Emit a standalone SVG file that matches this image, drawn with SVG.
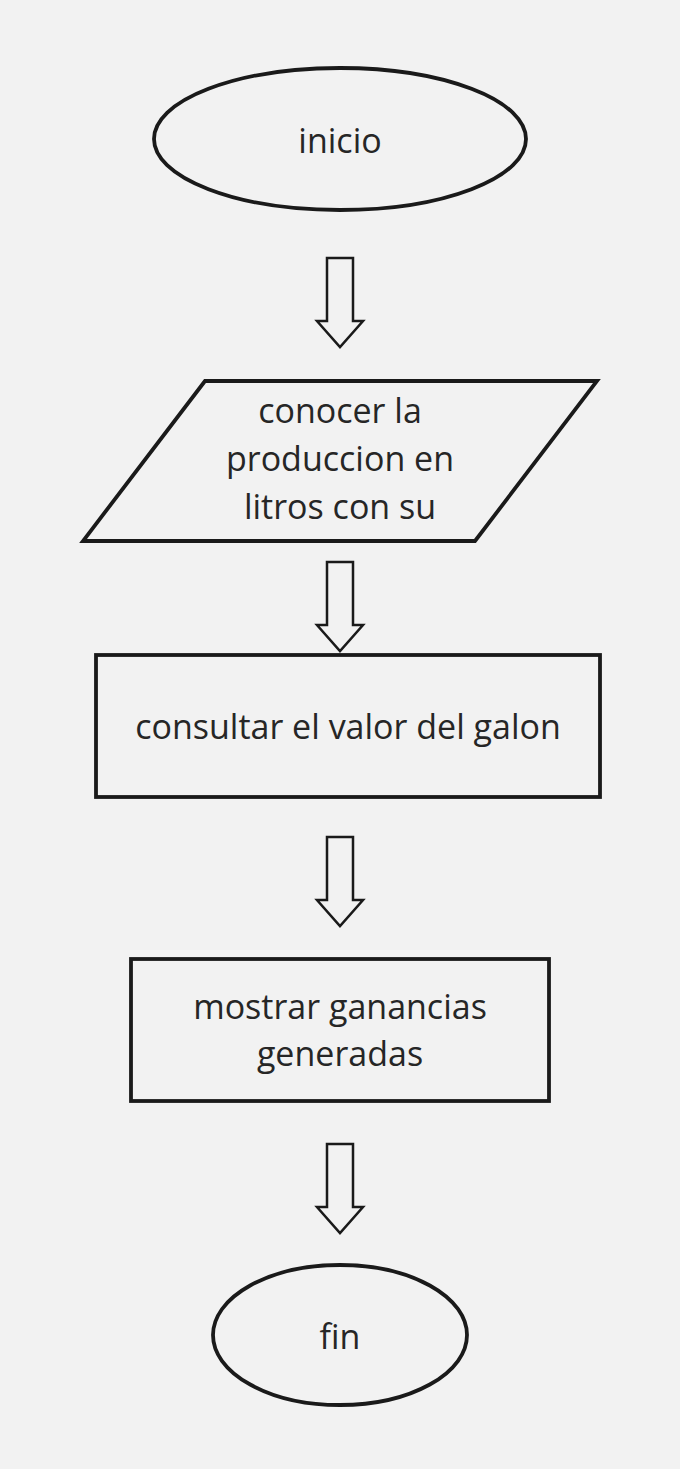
<svg xmlns="http://www.w3.org/2000/svg" width="680" height="1469" viewBox="0 0 680 1469">
<style>
.shape{fill:none;stroke:#1a1a1a;stroke-width:3.8}
.arrow{fill:#f2f2f2;stroke:#1a1a1a;stroke-width:2.5;stroke-linejoin:miter}
.t{font-family:"Open Sans","Noto Sans",sans-serif;font-size:34px;font-weight:400;fill:#262626;text-anchor:middle}
</style>
<rect width="680" height="1469" fill="#f2f2f2"/>
<g id="connectors">
<path class="arrow" d="M327,258 H353 V321 H363 L340,347 L317,321 H327 Z"/>
<path class="arrow" d="M327,562 H353 V625 H363 L340,651 L317,625 H327 Z"/>
<path class="arrow" d="M327,837 H353 V900 H363 L340,926 L317,900 H327 Z"/>
<path class="arrow" d="M327,1144 H353 V1207 H363 L340,1233 L317,1207 H327 Z"/>
</g>
<g id="inicio">
<ellipse class="shape" cx="340" cy="139" rx="186" ry="71"/>
<text class="t" x="340" y="153">inicio</text>
</g>
<g id="conocer">
<polygon class="shape" points="205,381 597,381 475,541 83,541"/>
<text class="t" x="340" y="423">conocer la</text>
<text class="t" x="340" y="471">produccion en</text>
<text class="t" x="340" y="519">litros con su</text>
</g>
<g id="consultar">
<rect class="shape" x="96" y="655" width="504" height="142"/>
<text class="t" x="348" y="739">consultar el valor del galon</text>
</g>
<g id="mostrar">
<rect class="shape" x="131" y="959" width="418" height="142"/>
<text class="t" x="340" y="1019">mostrar ganancias</text>
<text class="t" x="340" y="1066">generadas</text>
</g>
<g id="fin">
<ellipse class="shape" cx="340" cy="1335" rx="127" ry="70"/>
<text class="t" x="340" y="1349">fin</text>
</g>
</svg>
